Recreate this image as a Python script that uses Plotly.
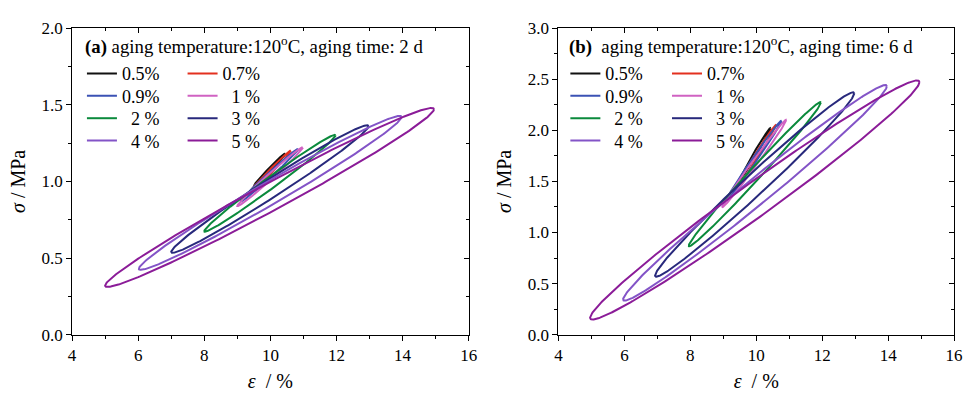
import numpy as np
import plotly.graph_objects as go

labels = ["0.5%", "0.7%", "0.9%", "\u20071 %", "\u20072 %", "\u20073 %", "\u20074 %", "\u20075 %"]
colors = ["#111111", "#e3301f", "#3b52b4", "#d062c2", "#0b8a3c", "#28297c", "#8354c7", "#8b1c98"]

# panel (a): aging time 2 d  -- loop tip coordinates and half-gap at loop centre
strain_lo_a = [9.5, 9.3, 9.1, 9.0, 8.0, 7.0, 6.02, 5.0]
strain_hi_a = [10.45, 10.62, 10.84, 10.98, 11.97, 12.97, 13.97, 14.95]
stress_lo_a = [0.97, 0.91, 0.87, 0.84, 0.675, 0.54, 0.43, 0.32]
stress_hi_a = [1.18, 1.20, 1.21, 1.22, 1.30, 1.36, 1.42, 1.47]
halfgap_a = [0.015, 0.017, 0.02, 0.025, 0.045, 0.07, 0.085, 0.10]

# panel (b): aging time 6 d
strain_lo_b = [9.5, 9.3, 9.1, 8.97, 7.95, 6.93, 5.96, 4.96]
strain_hi_b = [10.43, 10.6, 10.76, 10.91, 11.96, 12.97, 13.96, 14.95]
stress_lo_b = [1.52, 1.40, 1.32, 1.25, 0.87, 0.578, 0.345, 0.165]
stress_hi_b = [2.02, 2.05, 2.09, 2.10, 2.27, 2.36, 2.43, 2.47]
halfgap_b = [0.03, 0.035, 0.04, 0.045, 0.085, 0.14, 0.16, 0.20]

x_ticks = [4, 6, 8, 10, 12, 14, 16]
ya_ticks = [0.0, 0.5, 1.0, 1.5, 2.0]
yb_ticks = [0.0, 0.5, 1.0, 1.5, 2.0, 2.5, 3.0]

FONT = "Liberation Serif, Times New Roman, serif"
t = np.linspace(0, 2 * np.pi, 361)


def loop(xl, xr, yl, yr, w):
    xc, A = (xl + xr) / 2, (xr - xl) / 2
    yc, B = (yl + yr) / 2, (yr - yl) / 2
    return xc + A * np.cos(t), yc + B * np.cos(t) + w * np.sin(t)


W, H = 970, 398
# one legend per entry so that each legend row/column can be placed like the reference
ROWS_PX = [68, 91.5, 115, 138.5]
COLS_A_PX = [79, 181]
COLS_B_PX = [569, 672]

fig = go.Figure()
layout_legends = {}


def legend_spec(xpx, ypx):
    return dict(orientation="v", font=dict(family=FONT, size=18, color="black"),
                bgcolor="rgba(0,0,0,0)", borderwidth=0,
                xanchor="left", yanchor="middle", x=xpx / W, y=(H - ypx) / H,
                itemclick=False, itemdoubleclick=False)


for p, (lo, hi, slo, shi, gap, cols, xa, ya) in enumerate([
        (strain_lo_a, strain_hi_a, stress_lo_a, stress_hi_a, halfgap_a, COLS_A_PX, "x", "y"),
        (strain_lo_b, strain_hi_b, stress_lo_b, stress_hi_b, halfgap_b, COLS_B_PX, "x2", "y2")]):
    for i in range(len(labels)):
        x, y = loop(lo[i], hi[i], slo[i], shi[i], gap[i])
        k = p * 8 + i + 1
        lname = "legend" if k == 1 else f"legend{k}"
        layout_legends[lname] = legend_spec(cols[i % 2], ROWS_PX[i // 2])
        fig.add_trace(go.Scatter(x=x, y=y, mode="lines", name=labels[i],
                                 line=dict(color=colors[i], width=2),
                                 xaxis=xa, yaxis=ya, legend=lname))

# dummy traces for mirrored (inside) tick axes
for xa, ya in [("x3", "y"), ("x", "y3"), ("x4", "y2"), ("x2", "y4")]:
    fig.add_trace(go.Scatter(x=[None], y=[None], xaxis=xa, yaxis=ya, showlegend=False, hoverinfo="skip"))

dxa = [69 / W, 471 / W]
dxb = [562 / W, 963 / W]
dy = [56 / H, 378 / H]

tickfont = dict(family=FONT, size=17, color="black")
common_x = dict(range=[4, 16], tickvals=x_ticks, ticks="outside", ticklen=5, tickwidth=1,
                tickcolor="black", showline=True, linecolor="black", linewidth=1,
                showgrid=False, zeroline=False, tickfont=tickfont,
                minor=dict(dtick=1, ticks="outside", ticklen=3, tickcolor="black", showgrid=False))
title_x = dict(text="<i>ε</i>\u00a0 / %", font=dict(family=FONT, size=20, color="black"), standoff=9)


def ycommon(rng, vals):
    return dict(range=rng, tickvals=vals, ticktext=[f"{v:.1f}" for v in vals], ticks="outside",
                ticklen=5, tickwidth=1, tickcolor="black", showline=True, linecolor="black",
                linewidth=1, showgrid=False, zeroline=False, tickfont=tickfont,
                minor=dict(dtick=0.25, ticks="outside", ticklen=3, tickcolor="black", showgrid=False))


title_y = dict(text="<i>σ</i> / MPa", font=dict(family=FONT, size=20, color="black"), standoff=10)

mirror_x = dict(range=[4, 16], tickvals=x_ticks, ticks="inside", ticklen=5, tickcolor="black",
                showticklabels=False, showgrid=False, zeroline=False, showline=True,
                linecolor="black", side="top",
                minor=dict(dtick=1, ticks="inside", ticklen=3, tickcolor="black", showgrid=False))


def mirror_y(rng):
    return dict(range=rng, dtick=0.5, tick0=0, ticks="inside", ticklen=5, tickcolor="black",
                showticklabels=False, showgrid=False, zeroline=False, showline=True,
                linecolor="black", side="right",
                minor=dict(dtick=0.25, ticks="inside", ticklen=3, tickcolor="black", showgrid=False))


fig.update_layout(
    width=W, height=H, margin=dict(l=0, r=0, t=0, b=0),
    paper_bgcolor="white", plot_bgcolor="white",
    font=dict(family=FONT, color="black"),
    xaxis=dict(domain=dxa, anchor="y", title=title_x, **common_x),
    yaxis=dict(domain=dy, anchor="x", title=title_y, **ycommon([0, 2.0], ya_ticks)),
    xaxis2=dict(domain=dxb, anchor="y2", title=title_x, **common_x),
    yaxis2=dict(domain=dy, anchor="x2", title=title_y, **ycommon([0, 3.0], yb_ticks)),
    xaxis3=dict(overlaying="x", anchor="y", **mirror_x),
    yaxis3=dict(overlaying="y", anchor="x", **mirror_y([0, 2.0])),
    xaxis4=dict(overlaying="x2", anchor="y2", **mirror_x),
    yaxis4=dict(overlaying="y2", anchor="x2", **mirror_y([0, 3.0])),
    showlegend=True,
    annotations=[
        dict(text="<b>(a)</b> aging temperature:120<sup>o</sup>C, aging time: 2 d", xref="paper", yref="paper",
             x=80 / W, y=(H - 38) / H, xanchor="left", yanchor="middle", showarrow=False,
             font=dict(family=FONT, size=18.8, color="black")),
        dict(text="<b>(b)</b>\u00a0 aging temperature:120<sup>o</sup>C, aging time: 6 d", xref="paper", yref="paper",
             x=571 / W, y=(H - 38) / H, xanchor="left", yanchor="middle", showarrow=False,
             font=dict(family=FONT, size=18.8, color="black")),
    ],
)
fig.update_layout(**layout_legends)

fig.write_html("out.html")
